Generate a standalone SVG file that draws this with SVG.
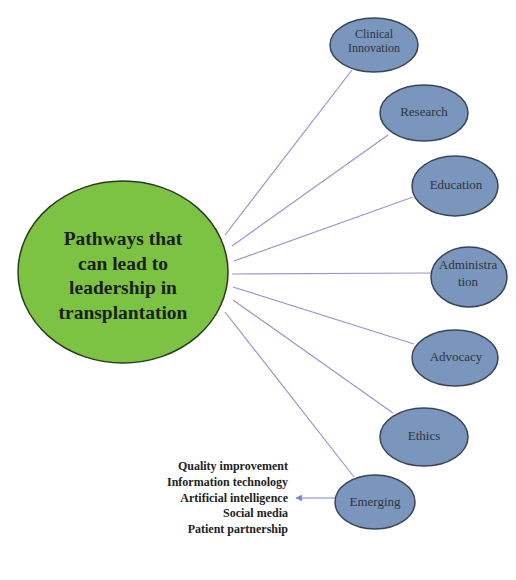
<svg xmlns="http://www.w3.org/2000/svg" width="516" height="580" viewBox="0 0 516 580">
<defs>
<style>
.hub{fill:#7cc243;stroke:#2b3a1c;stroke-width:1.5}
.node{fill:#7b96bc;stroke:#3a4658;stroke-width:1.5}
.hubt{font-family:"Liberation Serif",serif;font-weight:bold;font-size:19.5px;fill:#1a1f14;text-anchor:middle}
.nt{font-family:"Liberation Serif",serif;font-size:13px;fill:#2c3442;text-anchor:middle}
.nt2{font-family:"Liberation Serif",serif;font-size:12px;fill:#2c3442;text-anchor:middle}
.lst{font-family:"Liberation Serif",serif;font-weight:bold;font-size:12px;fill:#222;text-anchor:end}
.ln{stroke:#9d95c8;stroke-width:1.2;fill:none}
.arr{stroke:#7e84d2;stroke-width:1.2;fill:none}
</style>
<marker id="ah" viewBox="0 0 10 10" refX="9" refY="5" markerWidth="7" markerHeight="7" orient="auto-start-reverse" markerUnits="userSpaceOnUse">
<path d="M0,0 L10,5 L0,10 z" fill="#7e84d2"/>
</marker>
</defs>
<rect width="516" height="580" fill="#ffffff"/>
<g id="connectors">
<line class="ln" x1="225" y1="235" x2="352" y2="70"/>
<line class="ln" x1="232" y1="246" x2="388" y2="135"/>
<line class="ln" x1="234" y1="261" x2="413" y2="197"/>
<line class="ln" x1="232" y1="274" x2="432" y2="273"/>
<line class="ln" x1="233" y1="287" x2="414" y2="344"/>
<line class="ln" x1="233" y1="300" x2="393" y2="413"/>
<line class="ln" x1="225" y1="312" x2="354" y2="477"/>
<line class="arr" x1="335" y1="498" x2="296" y2="498" marker-end="url(#ah)"/>
</g>
<g id="hub">
<ellipse class="hub" cx="123" cy="272" rx="105" ry="91"/>
<text class="hubt" x="123" y="245">Pathways that</text>
<text class="hubt" x="123" y="270">can lead to</text>
<text class="hubt" x="123" y="294">leadership in</text>
<text class="hubt" x="123" y="319">transplantation</text>
</g>
<g id="clinical-innovation">
<ellipse class="node" cx="374" cy="45" rx="44" ry="27"/>
<text class="nt2" x="374" y="38">Clinical</text>
<text class="nt2" x="374" y="52">Innovation</text>
</g>
<g id="research">
<ellipse class="node" cx="424" cy="113" rx="44" ry="28"/>
<text class="nt" x="424" y="116">Research</text>
</g>
<g id="education">
<ellipse class="node" cx="455" cy="186" rx="43" ry="30"/>
<text class="nt" x="456" y="189">Education</text>
</g>
<g id="administration">
<ellipse class="node" cx="469" cy="277" rx="38" ry="30"/>
<text class="nt" x="468" y="269">Administra</text>
<text class="nt" x="468" y="286">tion</text>
</g>
<g id="advocacy">
<ellipse class="node" cx="455" cy="358" rx="43" ry="28"/>
<text class="nt" x="456" y="361">Advocacy</text>
</g>
<g id="ethics">
<ellipse class="node" cx="424" cy="437" rx="44" ry="29"/>
<text class="nt" x="424" y="440">Ethics</text>
</g>
<g id="emerging">
<ellipse class="node" cx="375" cy="502" rx="40" ry="27"/>
<text class="nt" x="375" y="506">Emerging</text>
</g>
<g id="emerging-list">
<text class="lst" x="288" y="470">Quality improvement</text>
<text class="lst" x="288" y="486">Information technology</text>
<text class="lst" x="288" y="502">Artificial intelligence</text>
<text class="lst" x="288" y="517">Social media</text>
<text class="lst" x="288" y="533">Patient partnership</text>
</g>
</svg>
